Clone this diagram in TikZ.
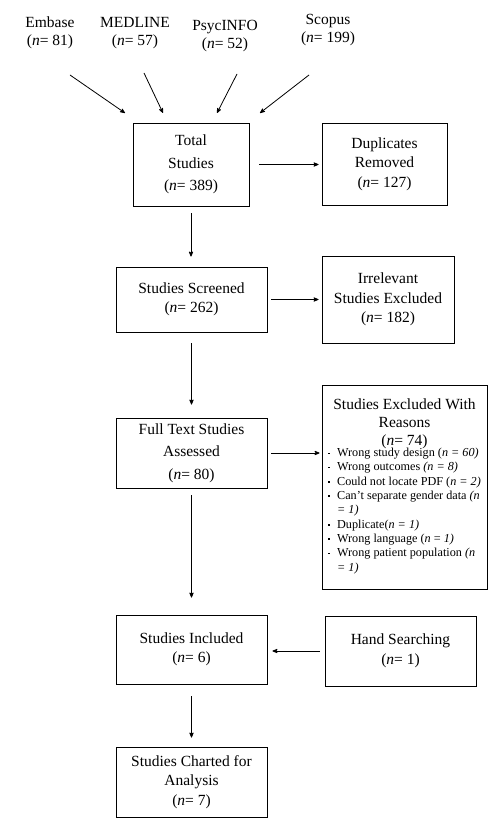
\documentclass[tikz,border=0pt]{standalone}
\usepackage{fontspec}
\setmainfont{Liberation Serif}
\usetikzlibrary{arrows}
\tikzset{
  flowbox/.style = {draw, line width=0.9pt, align=center, inner sep=2pt, font=\fontsize{15.5}{19.5}\selectfont},
  source/.style = {align=center, inner sep=0pt, font=\fontsize{15.5}{17.5}\selectfont},
  link/.style = {->, >=stealth', line width=0.8pt}
}

\begin{document}
\begin{tikzpicture}[x=1pt, y=-1pt]
  \useasboundingbox (0,0) rectangle (495,821);
  % databases
  \node [source] (embase) at (50,33) {Embase\\(\textit{n}= 81)};
  \node [source] (medline) at (135,33) {MEDLINE\\(\textit{n}= 57)};
  \node [source] (psycinfo) at (225,36) {PsycINFO\\(\textit{n}= 52)};
  \node [source] (scopus) at (328,30) {Scopus\\(\textit{n}= 199)};
  % flow boxes
  \node [flowbox, minimum width=116pt, minimum height=83pt] (total) at (191,164.5)
    {Total\\[3pt]Studies\\[3pt](\textit{n}= 389)};
  \node [flowbox, minimum width=125pt, minimum height=82pt] (dup) at (384.5,164)
    {Duplicates\\Removed\\(\textit{n}= 127)};
  \node [flowbox, minimum width=151pt, minimum height=65pt] (screened) at (191.5,299.5)
    {Studies Screened\\(\textit{n}= 262)};
  \node [flowbox, minimum width=132pt, minimum height=87pt] (irrelevant) at (388,299.5)
    {Irrelevant\\Studies Excluded\\(\textit{n}= 182)};
  \node [flowbox, minimum width=151pt, minimum height=70pt] (fulltext) at (191.5,453)
    {Full Text Studies\\[3pt]Assessed\\[3pt](\textit{n}= 80)};
  \node [flowbox, minimum width=165pt, minimum height=204pt, font=\fontsize{15.5}{18}\selectfont] (excluded) at (404.5,487)
    {Studies Excluded With\\Reasons\\(\textit{n}= 74)\\[-3pt]
     {\fontsize{12.2}{14.3}\selectfont
      \begin{tabular}{@{}l@{\hspace{7pt}}l@{}}
        \rule[2.5pt]{2pt}{1.6pt} & Wrong study design (\textit{n = 60)}\\
        \rule[2.5pt]{2pt}{1.6pt} & Wrong outcomes \textit{(n = 8)}\\
        \rule[2.5pt]{2pt}{1.6pt} & Could not locate PDF (\textit{n = 2)}\\
        \rule[2.5pt]{2pt}{1.6pt} & Can’t separate gender data \textit{(n}\\
                                 & \textit{= 1)}\\
        \rule[2.5pt]{2pt}{1.6pt} & Duplicate(\textit{n = 1)}\\
        \rule[2.5pt]{2pt}{1.6pt} & Wrong language (\textit{n} = \textit{1)}\\
        \rule[2.5pt]{2pt}{1.6pt} & Wrong patient population \textit{(n}\\
                                 & \textit{= 1)}
      \end{tabular}}};
  \node [flowbox, minimum width=151pt, minimum height=69pt] (included) at (191.5,649.5)
    {Studies Included\\(\textit{n}= 6)};
  \node [flowbox, minimum width=151pt, minimum height=70pt] (hand) at (400.5,651)
    {Hand Searching\\(\textit{n}= 1)};
  \node [flowbox, minimum width=151pt, minimum height=70pt] (charted) at (191.5,782)
    {Studies Charted for\\Analysis\\(\textit{n}= 7)};
  % free arrow ends
  \coordinate (embase-tail) at (70,75);
  \coordinate (embase-head) at (125,113);
  \coordinate (medline-tail) at (144,73);
  \coordinate (medline-head) at (163,113);
  \coordinate (psycinfo-tail) at (237,74);
  \coordinate (psycinfo-head) at (217,113);
  \coordinate (scopus-tail) at (309,75);
  \coordinate (scopus-head) at (260,113);
  \draw [link] (embase-tail) -- (embase-head);
  \draw [link] (medline-tail) -- (medline-head);
  \draw [link] (psycinfo-tail) -- (psycinfo-head);
  \draw [link] (scopus-tail) -- (scopus-head);
  % connectors
  \draw [link, shorten <=10pt, shorten >=3pt] (total.east) -- (total.east -| dup.west);
  \draw [link, shorten <=7pt, shorten >=10pt] (total.south) -- (total.south |- screened.north);
  \draw [link, shorten <=4pt, shorten >=3pt] (screened.east) -- (screened.east -| irrelevant.west);
  \draw [link, shorten <=11pt, shorten >=13pt] (screened.south) -- (fulltext.north);
  \draw [link, shorten <=4pt, shorten >=2pt] (fulltext.east) -- (fulltext.east -| excluded.west);
  \draw [link, shorten <=7pt, shorten >=17pt] (fulltext.south) -- (included.north);
  \draw [link, shorten <=5pt, shorten >=5pt] (hand.west) -- (hand.west -| included.east);
  \draw [link, shorten <=12pt, shorten >=9pt] (included.south) -- (charted.north);
\end{tikzpicture}
\end{document}
